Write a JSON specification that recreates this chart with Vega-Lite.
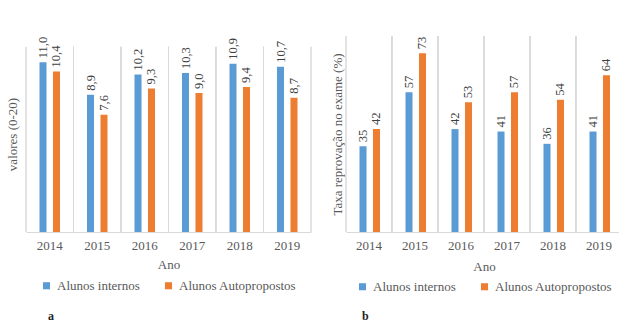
{
  "$schema": "https://vega.github.io/schema/vega-lite/v6.json",
  "padding": {"left": 6, "top": 35, "right": 0, "bottom": 0},
  "background": "white",
  "config": {
    "locale": {"number": {"decimal": ",", "thousands": ".", "grouping": [3], "currency": ["", " €"]}},
    "font": "Liberation Serif",
    "view": {"stroke": null},
    "axis": {"labelFont": "Liberation Serif", "titleFont": "Liberation Serif", "labelColor": "#595959", "titleColor": "#595959", "titleFontWeight": "normal", "labelFontSize": 13, "titleFontSize": 13},
    "legend": {"labelFont": "Times New Roman", "labelFontSize": 13, "labelColor": "#595959", "symbolType": "square", "symbolSize": 50, "symbolStrokeWidth": 0, "columnPadding": 22, "labelOffset": 4, "layout": {"bottom": {"anchor": "middle"}}},
    "concat": {"spacing": 19}
  },
  "datasets": {
    "notas": [
      {"ano": "2014", "grupo": "Alunos internos", "valor": 11.0},
      {"ano": "2014", "grupo": "Alunos Autopropostos", "valor": 10.4},
      {"ano": "2015", "grupo": "Alunos internos", "valor": 8.9},
      {"ano": "2015", "grupo": "Alunos Autopropostos", "valor": 7.6},
      {"ano": "2016", "grupo": "Alunos internos", "valor": 10.2},
      {"ano": "2016", "grupo": "Alunos Autopropostos", "valor": 9.3},
      {"ano": "2017", "grupo": "Alunos internos", "valor": 10.3},
      {"ano": "2017", "grupo": "Alunos Autopropostos", "valor": 9.0},
      {"ano": "2018", "grupo": "Alunos internos", "valor": 10.9},
      {"ano": "2018", "grupo": "Alunos Autopropostos", "valor": 9.4},
      {"ano": "2019", "grupo": "Alunos internos", "valor": 10.7},
      {"ano": "2019", "grupo": "Alunos Autopropostos", "valor": 8.7}
    ],
    "taxa": [
      {"ano": "2014", "grupo": "Alunos internos", "valor": 35},
      {"ano": "2014", "grupo": "Alunos Autopropostos", "valor": 42},
      {"ano": "2015", "grupo": "Alunos internos", "valor": 57},
      {"ano": "2015", "grupo": "Alunos Autopropostos", "valor": 73},
      {"ano": "2016", "grupo": "Alunos internos", "valor": 42},
      {"ano": "2016", "grupo": "Alunos Autopropostos", "valor": 53},
      {"ano": "2017", "grupo": "Alunos internos", "valor": 41},
      {"ano": "2017", "grupo": "Alunos Autopropostos", "valor": 57},
      {"ano": "2018", "grupo": "Alunos internos", "valor": 36},
      {"ano": "2018", "grupo": "Alunos Autopropostos", "valor": 54},
      {"ano": "2019", "grupo": "Alunos internos", "valor": 41},
      {"ano": "2019", "grupo": "Alunos Autopropostos", "valor": 64}
    ]
  },
  "hconcat": [
    {
      "width": 285,
      "height": 196,
      "data": {"name": "notas"},
      "title": {"text": "a", "orient": "bottom", "anchor": "start", "frame": "group", "dx": 22, "offset": 18, "fontSize": 12, "fontWeight": "bold", "color": "#222222", "font": "Liberation Serif"},
      "layer": [
        {
          "mark": {"type": "bar"},
          "encoding": {
            "x": {"field": "ano", "type": "ordinal", "scale": {"paddingInner": 0, "paddingOuter": 0},
              "axis": {"title": "Ano", "labelAngle": 0, "bandPosition": 0.5, "labelAlign": "center", "ticks": false, "domain": true, "domainColor": "#d9d9d9", "labelPadding": 7, "titlePadding": 6, "grid": false}},
            "xOffset": {"field": "grupo", "type": "nominal", "sort": ["Alunos internos", "Alunos Autopropostos"], "scale": {"paddingInner": 0.48, "paddingOuter": 1.14}},
            "y": {"field": "valor", "type": "quantitative", "scale": {"domain": [0, 12.7], "nice": false},
              "axis": {"title": "valores (0-20)", "labels": false, "ticks": false, "domain": false, "grid": false, "titlePadding": 7}},
            "color": {"field": "grupo", "type": "nominal", "scale": {"domain": ["Alunos internos", "Alunos Autopropostos"], "range": ["#5B9BD5", "#ED7D31"]},
              "legend": {"title": null, "orient": "bottom", "direction": "horizontal", "offset": 8, "labelFont": "Times New Roman", "labelFontSize": 13}}
          }
        },
        {
          "mark": {"type": "rule", "color": "#d9d9d9", "strokeWidth": 1},
          "encoding": {"x": {"field": "ano", "type": "ordinal", "bandPosition": 0}, "y": {"datum": 12}, "y2": {"datum": 0}}
        },
        {
          "mark": {"type": "rule", "color": "#d9d9d9", "strokeWidth": 1},
          "encoding": {"x": {"field": "ano", "type": "ordinal", "bandPosition": 1}, "y": {"datum": 12}, "y2": {"datum": 0}}
        },
        {
          "mark": {"type": "text", "angle": -90, "align": "left", "baseline": "middle", "dx": 4, "fontSize": 12.5, "color": "#404040", "font": "Liberation Serif"},
          "encoding": {
            "x": {"field": "ano", "type": "ordinal"},
            "xOffset": {"field": "grupo", "type": "nominal", "sort": ["Alunos internos", "Alunos Autopropostos"]},
            "y": {"field": "valor", "type": "quantitative"},
            "text": {"field": "valor", "type": "quantitative", "format": ".1f"}
          }
        }
      ]
    },
    {
      "width": 276,
      "height": 196,
      "data": {"name": "taxa"},
      "title": {"text": "b", "orient": "bottom", "anchor": "start", "frame": "group", "dx": 16, "offset": 17, "fontSize": 12, "fontWeight": "bold", "color": "#222222", "font": "Liberation Serif"},
      "layer": [
        {
          "mark": {"type": "bar"},
          "encoding": {
            "x": {"field": "ano", "type": "ordinal", "scale": {"paddingInner": 0, "paddingOuter": 0},
              "axis": {"title": "Ano", "labelAngle": 0, "bandPosition": 0.5, "labelAlign": "center", "ticks": false, "domain": true, "domainColor": "#d9d9d9", "labelPadding": 7, "titlePadding": 8, "grid": false}},
            "xOffset": {"field": "grupo", "type": "nominal", "sort": ["Alunos internos", "Alunos Autopropostos"], "scale": {"paddingInner": 0.45, "paddingOuter": 1.2}},
            "y": {"field": "valor", "type": "quantitative", "scale": {"domain": [0, 80], "nice": false},
              "axis": {"title": "Taxa reprovação no exame (%)", "labels": false, "ticks": false, "domain": false, "grid": false, "titlePadding": 2}},
            "color": {"field": "grupo", "type": "nominal", "scale": {"domain": ["Alunos internos", "Alunos Autopropostos"], "range": ["#5B9BD5", "#ED7D31"]},
              "legend": {"title": null, "orient": "bottom", "direction": "horizontal", "offset": 7, "labelFont": "Times New Roman", "labelFontSize": 13}}
          }
        },
        {
          "mark": {"type": "rule", "color": "#d9d9d9", "strokeWidth": 1},
          "encoding": {"x": {"field": "ano", "type": "ordinal", "bandPosition": 0}}
        },
        {
          "mark": {"type": "rule", "color": "#d9d9d9", "strokeWidth": 1},
          "encoding": {"x": {"field": "ano", "type": "ordinal", "bandPosition": 1}}
        },
        {
          "mark": {"type": "text", "angle": -90, "align": "left", "baseline": "middle", "dx": 4, "fontSize": 12.5, "color": "#404040", "font": "Liberation Serif"},
          "encoding": {
            "x": {"field": "ano", "type": "ordinal"},
            "xOffset": {"field": "grupo", "type": "nominal", "sort": ["Alunos internos", "Alunos Autopropostos"]},
            "y": {"field": "valor", "type": "quantitative"},
            "text": {"field": "valor", "type": "quantitative", "format": "d"}
          }
        }
      ]
    }
  ],
  "resolve": {"scale": {"color": "independent"}, "legend": {"color": "independent"}}
}
